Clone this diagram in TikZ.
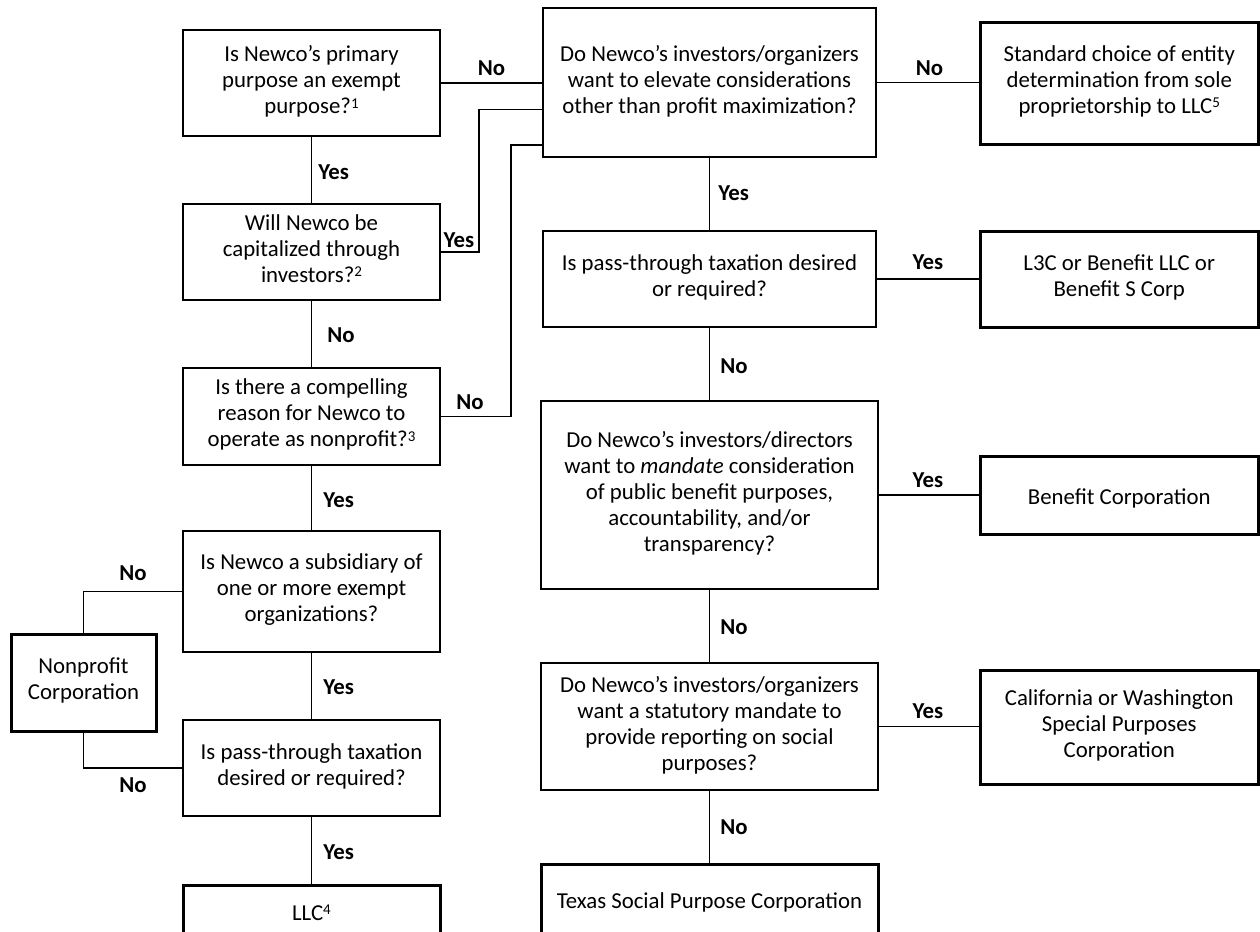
\documentclass[tikz,border=0pt]{standalone}
\usepackage{fontspec}
\setmainfont{Carlito}
\newcommand\supnum[1]{\raisebox{0.5ex}{\fontsize{7.5}{7.5}\selectfont #1}}
\begin{document}
\begin{tikzpicture}[x=0.5pt,y=-0.5pt,
  every node/.style={font=\fontsize{11.4}{13}\selectfont},
  bx/.style n args={2}{minimum width=#1*0.5pt, minimum height=#2*0.5pt},
  boxtext/.style={align=center, inner sep=0pt,
    execute at begin node={\rule{0pt}{12.5pt}},
    execute at end node={\rule[-3.5pt]{0pt}{3.5pt}}},
  qbox/.style={draw, line width=0.6pt, boxtext},
  abox/.style={draw, line width=1.5pt, boxtext},
  conn/.style={line width=0.6pt},
  lbl/.style={font=\fontsize{11.4}{13}\selectfont\bfseries, inner sep=0pt}]
\clip (0,0) rectangle (1260,932);
% left column
\node[qbox, bx={257}{106}] (q1) at (311.5,83) {Is Newco’s primary\\purpose an exempt\\purpose?\supnum{1}};
\node[qbox, bx={257}{96}] (q2) at (311.5,252) {Will Newco be\\capitalized through\\investors?\supnum{2}};
\node[qbox, bx={257}{97}] (q3) at (311.5,416.5) {Is there a compelling\\reason for Newco to\\operate as nonprofit?\supnum{3}};
\node[qbox, bx={257}{121}] (q4) at (311.5,591.5) {Is Newco a subsidiary of\\one or more exempt\\organizations?};
\node[qbox, bx={257}{96}] (q5) at (311.5,768) {Is pass-through taxation\\desired or required?};
\node[abox, bx={257}{52}] (llc) at (311.5,911) {LLC\supnum{4}};
\node[abox, bx={145}{97}] (np) at (83.5,682.5) {Nonprofit\\Corporation};
% middle column
\node[qbox, bx={333}{149}] (m1) at (709.5,82.5) {Do Newco’s investors/organizers\\want to elevate considerations\\other than profit maximization?};
\node[qbox, bx={333}{96}] (m2) at (709.5,279) {Is pass-through taxation desired\\or required?};
\node[qbox, bx={337}{188}] (m3) at (709.5,495) {Do Newco’s investors/directors\\want to \emph{mandate} consideration\\of public benefit purposes,\\accountability, and/or\\transparency?};
\node[qbox, bx={337}{127}] (m4) at (709.5,726.5) {Do Newco’s investors/organizers\\want a statutory mandate to\\provide reporting on social\\purposes?};
\node[abox, bx={337}{70}] (tx) at (709.5,899) {Texas Social Purpose Corporation};
% right column
\node[abox, bx={278.5}{122}] (r1) at (1119.25,83) {Standard choice of entity\\determination from sole\\proprietorship to LLC\supnum{5}};
\node[abox, bx={278.5}{96}] (r2) at (1119.25,279) {L3C or Benefit LLC or\\Benefit S Corp};
\node[abox, bx={278.5}{78}] (r3) at (1119.25,495) {Benefit Corporation};
\node[abox, bx={278.5}{114}] (r4) at (1119.25,727) {California or Washington\\Special Purposes\\Corporation};
% junction coordinates
\coordinate (j1) at (479,109.5);
\coordinate (j2) at (511,145);
% connectors
\draw[conn] (q1.east) -- (q1.east -| m1.west);
\draw[conn] (q2.east) -| (j1) -- (j1 -| m1.west);
\draw[conn] (q3.east) -| (j2) -- (j2 -| m1.west);
\draw[conn] (q1.south) -- (q2.north);
\draw[conn] (q2.south) -- (q3.north);
\draw[conn] (q3.south) -- (q4.north);
\draw[conn] (q4.south) -- (q5.north);
\draw[conn] (q5.south) -- (llc.north);
\draw[conn] (q4.west) -| (np.north);
\draw[conn] (q5.west) -| (np.south);
\draw[conn] (m1.east) -- (m1.east -| r1.west);
\draw[conn] (m2.east) -- (m2.east -| r2.west);
\draw[conn] (m3.east) -- (m3.east -| r3.west);
\draw[conn] (m4.east) -- (m4.east -| r4.west);
\draw[conn] (m1.south) -- (m2.north);
\draw[conn] (m2.south) -- (m3.north);
\draw[conn] (m3.south) -- (m4.north);
\draw[conn] (m4.south) -- (tx.north);
% labels
\node[lbl] (l1) at (491.5,68) {No};
\node[lbl] (l2) at (459,240) {Yes};
\node[lbl] (l3) at (470,402) {No};
\node[lbl, anchor=west] (l4) at (318,172) {Yes};
\node[lbl, anchor=west] (l5) at (327,335) {No};
\node[lbl, anchor=west] (l6) at (323,500) {Yes};
\node[lbl, anchor=west] (l7) at (323,687) {Yes};
\node[lbl, anchor=west] (l8) at (323,852) {Yes};
\node[lbl] (l9) at (133,573) {No};
\node[lbl] (l10) at (133,785) {No};
\node[lbl, anchor=west] (l11) at (718,193) {Yes};
\node[lbl, anchor=west] (l12) at (720,366) {No};
\node[lbl, anchor=west] (l13) at (720,627) {No};
\node[lbl, anchor=west] (l14) at (720,827) {No};
\node[lbl] (l15) at (929.5,68) {No};
\node[lbl] (l16) at (928,262) {Yes};
\node[lbl] (l17) at (928,480) {Yes};
\node[lbl] (l18) at (928,711) {Yes};
\end{tikzpicture}
\end{document}
